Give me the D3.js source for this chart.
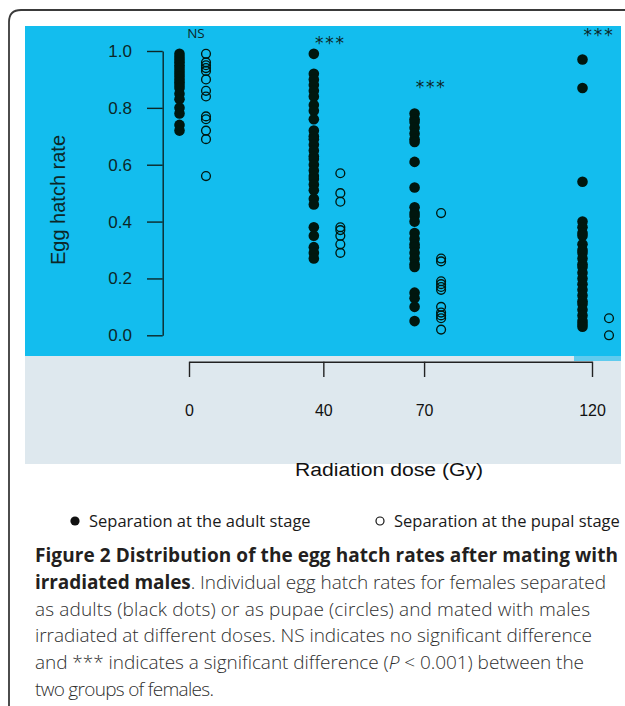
<!DOCTYPE html>
<html>
<head>
<meta charset="utf-8">
<script src="https://cdn.jsdelivr.net/npm/d3@7"></script>
<style>
  html, body { margin: 0; padding: 0; background: #fff; }
  svg { display: block; }
</style>
</head>
<body>
<svg id="fig" width="625" height="706"></svg>
<script>
// radiation doses (Gy) and egg hatch rates
var doses = [0, 40, 70, 120];

var adult0 = [0.99, 0.98, 0.97, 0.96, 0.95, 0.94, 0.93, 0.92, 0.91, 0.90, 0.89, 0.88, 0.87, 0.85, 0.83, 0.80, 0.78, 0.74, 0.72];
var adult40 = [0.99, 0.92, 0.90, 0.88, 0.86, 0.84, 0.81, 0.79, 0.76, 0.72, 0.70, 0.69, 0.67, 0.65, 0.63, 0.62, 0.60, 0.58, 0.56, 0.55, 0.53, 0.51, 0.48, 0.46, 0.38, 0.35, 0.31, 0.29, 0.27];
var adult70 = [0.78, 0.76, 0.75, 0.73, 0.71, 0.69, 0.68, 0.61, 0.52, 0.45, 0.43, 0.42, 0.40, 0.36, 0.34, 0.32, 0.31, 0.29, 0.27, 0.25, 0.24, 0.15, 0.13, 0.10, 0.05];
var adult120 = [0.97, 0.87, 0.54, 0.40, 0.38, 0.36, 0.35, 0.32, 0.30, 0.29, 0.27, 0.25, 0.24, 0.22, 0.20, 0.18, 0.16, 0.14, 0.12, 0.11, 0.09, 0.07, 0.05, 0.04, 0.03];

var pupal0 = [0.99, 0.96, 0.95, 0.94, 0.93, 0.90, 0.86, 0.84, 0.77, 0.76, 0.72, 0.69, 0.56];
var pupal40 = [0.57, 0.50, 0.47, 0.38, 0.37, 0.35, 0.32, 0.29];
var pupal70 = [0.43, 0.27, 0.26, 0.19, 0.18, 0.17, 0.16, 0.10, 0.08, 0.07, 0.06, 0.02];
var pupal120 = [0.06, 0.00];

var yTicks = [0, 0.2, 0.4, 0.6, 0.8, 1.0];

// significance marks above each dose, and their height in hatch-rate units
var sigLabels = ["NS", "***", "***", "***"];
var sigHeights = [1.063, 1.042, 0.887, 1.067];

var legendLabels = ["Separation at the adult stage", "Separation at the pupal stage"];

var captionLines = [
  [{t: "Figure 2 Distribution of the egg hatch rates after mating with", b: true}],
  [{t: "irradiated males", b: true}, {t: ". Individual egg hatch rates for females separated"}],
  [{t: "as adults (black dots) or as pupae (circles) and mated with males"}],
  [{t: "irradiated at different doses. NS indicates no significant difference"}],
  [{t: "and *** indicates a significant difference ("}, {t: "P", i: true}, {t: " < 0.001) between the"}],
  [{t: "two groups of females."}]
];
var captionWidths = [583, 571, 555, 557, 549, 179];

function buildPoints()
{
  var adult = [adult0, adult40, adult70, adult120];
  var pupal = [pupal0, pupal40, pupal70, pupal120];
  var pts = [];
  doses.forEach(function(d, i) {
    adult[i].forEach(function(v) { pts.push({dose: d, value: v, group: "adult"}); });
    pupal[i].forEach(function(v) { pts.push({dose: d, value: v, group: "pupal"}); });
  });
  return pts;
}

function DrawFigure()
{
  var svg = d3.select("#fig");
  var ink = "#00170f";
  var axisInk = "#0c2727";

  // frame around the figure (rounded top-left corner, open on the other sides)
  svg.append("path")
     .attr("d", "M9,720 V22 Q9,10 21,10 H640")
     .attr("fill", "none")
     .attr("stroke", "#3a3a3a")
     .attr("stroke-width", 1.8);

  // panels
  svg.append("rect").attr("x", 25).attr("y", 26).attr("width", 596).attr("height", 330).attr("fill", "#13bdee");
  svg.append("rect").attr("x", 25).attr("y", 356).attr("width", 596).attr("height", 108).attr("fill", "#dee8ee");
  svg.append("rect").attr("x", 574).attr("y", 356).attr("width", 47).attr("height", 5).attr("fill", "#5fcbee");

  var yScale = d3.scaleLinear().domain([0, 1]).range([335.3, 51]);
  var xScale = d3.scaleLinear().domain([0, 120]).range([189, 592]);
  var groupShift = {adult: -9.5, pupal: 17};

  // y axis
  var yAxis = d3.axisLeft(yScale)
                .tickValues(yTicks)
                .tickFormat(d3.format(".1f"))
                .tickSize(15.7)
                .tickSizeOuter(0)
                .tickPadding(15);
  var gy = svg.append("g").attr("transform", "translate(162.7,0)").call(yAxis);
  gy.selectAll("path, line").attr("stroke", axisInk).attr("stroke-width", 1.4);
  gy.selectAll("text")
    .attr("fill", axisInk)
    .style("font-family", "'Liberation Sans', Arial, sans-serif")
    .style("font-size", "17px");

  svg.append("text")
     .attr("transform", "translate(65,200) rotate(-90)")
     .attr("text-anchor", "middle")
     .attr("fill", axisInk)
     .style("font-family", "'Liberation Sans', Arial, sans-serif")
     .style("font-size", "20px")
     .text("Egg hatch rate");

  // x axis in the grey band
  var xAxis = d3.axisBottom(xScale)
                .tickValues(doses)
                .tickSize(15.3)
                .tickSizeOuter(0)
                .tickPadding(28);
  var gx = svg.append("g").attr("transform", "translate(0,361.7)").call(xAxis);
  gx.selectAll("path, line").attr("stroke", "#222").attr("stroke-width", 1.4);
  gx.selectAll("text")
    .attr("fill", "#111")
    .style("font-family", "'Liberation Sans', Arial, sans-serif")
    .style("font-size", "16px");

  svg.append("text")
     .attr("x", 389).attr("y", 476)
     .attr("text-anchor", "middle")
     .attr("fill", "#111")
     .attr("textLength", 188)
     .attr("lengthAdjust", "spacingAndGlyphs")
     .style("font-family", "'Liberation Sans', Arial, sans-serif")
     .style("font-size", "18px")
     .text("Radiation dose (Gy)");

  // points
  var pts = buildPoints();
  svg.append("g").selectAll("circle")
     .data(pts)
     .enter().append("circle")
     .attr("cx", function(d) { return xScale(d.dose) + groupShift[d.group]; })
     .attr("cy", function(d) { return yScale(d.value); })
     .attr("r", function(d) { return d.group == "adult" ? 5.3 : 4.4; })
     .attr("fill", function(d) { return d.group == "adult" ? ink : "none"; })
     .attr("stroke", ink)
     .attr("stroke-width", function(d) { return d.group == "adult" ? 0 : 1.35; });

  // significance marks
  svg.append("g").selectAll("text")
     .data(sigLabels)
     .enter().append("text")
     .attr("x", function(d, i) { return xScale(doses[i]) + 7; })
     .attr("y", function(d, i) { return yScale(sigHeights[i]) + (d == "NS" ? 4.6 : 9.5); })
     .attr("text-anchor", "middle")
     .attr("fill", axisInk)
     .style("font-family", function(d) { return d == "NS" ? "'Open Sans', sans-serif" : "'DejaVu Sans', sans-serif"; })
     .style("font-size", function(d) { return d == "NS" ? "13.5px" : "17px"; })
     .style("letter-spacing", function(d) { return d == "NS" ? "0px" : "1.8px"; })
     .text(function(d) { return d; });

  // legend
  var legendX = [75, 380];
  var lg = svg.append("g");
  legendLabels.forEach(function(label, i) {
    lg.append("circle")
      .attr("cx", legendX[i]).attr("cy", 521)
      .attr("r", i == 0 ? 4.6 : 4)
      .attr("fill", i == 0 ? "#111" : "none")
      .attr("stroke", "#111")
      .attr("stroke-width", i == 0 ? 0 : 1.2);
    lg.append("text")
      .attr("x", legendX[i] + 14).attr("y", 527)
      .attr("fill", "#1a1a1a")
      .style("font-family", "'Open Sans', sans-serif")
      .style("font-size", "16.5px")
      .text(label);
  });

  // caption: widths matched by spreading the letters, not by stretching glyphs
  var cap = svg.append("g");
  captionLines.forEach(function(line, i) {
    var t = cap.append("text")
               .attr("x", 35)
               .attr("y", 562 + i * 26.8)
               .style("font-family", "'Open Sans', sans-serif")
               .style("font-size", "19px");
    var n = 0;
    line.forEach(function(seg) {
      n += seg.t.length;
      t.append("tspan")
       .attr("fill", seg.b ? "#231f20" : "#2f2f2f")
       .style("font-weight", seg.b ? 700 : 300)
       .style("font-style", seg.i ? "italic" : "normal")
       .text(seg.t);
    });
    var natural = t.node().getComputedTextLength();
    var ls = (captionWidths[i] - natural) / (n - 1);
    t.style("letter-spacing", ls + "px");
  });
}

DrawFigure();
</script>
</body>
</html>
